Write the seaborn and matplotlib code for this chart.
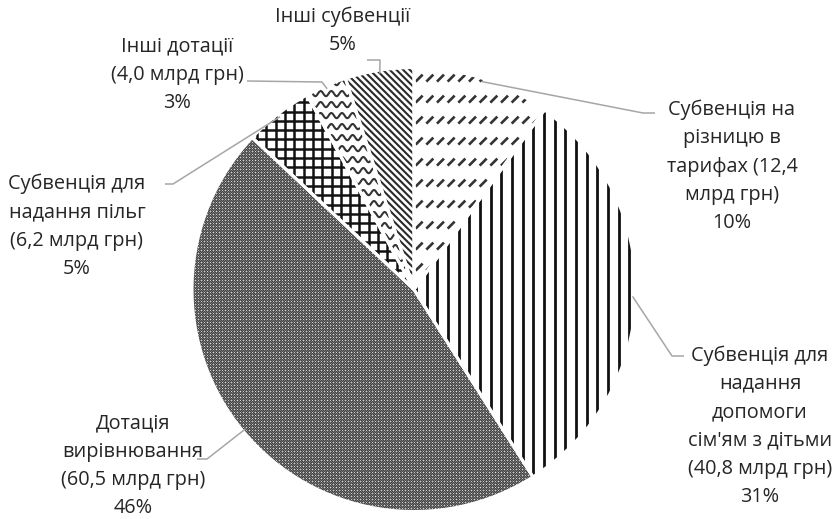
import numpy as np
import matplotlib
matplotlib.use("Agg")
import matplotlib.pyplot as plt
import seaborn as sns
from matplotlib.collections import LineCollection
from matplotlib.patches import Wedge

# ---------------- data ----------------
categories = [
    "Субвенція на\nрізницю в\nтарифах (12,4\nмлрд грн)",
    "Субвенція для\nнадання\nдопомоги\nсім'ям з дітьми\n(40,8 млрд грн)",
    "Дотація\nвирівнювання\n(60,5 млрд грн)",
    "Субвенція для\nнадання пільг\n(6,2 млрд грн)",
    "Інші дотації\n(4,0 млрд грн)",
    "Інші субвенції",
]
shares = [10, 31, 46, 5, 3, 5]

# ---------------- layout (pixels in the 837x519 canvas) ----------------
W_PX, H_PX = 837, 519
CX, CY, R = 414, 289.5, 222
label_pos = [(732, 166.5), (760, 426), (133, 466), (77, 226.5), (177, 75), (343, 31)]
leader_mid = [[(643, 113), (655, 113)],
              [(672, 356), (684, 356)],
              [(207, 459), (197, 459)],
              [(173, 184), (165, 184)],
              [(322, 82), (247, 81)],
              [(380, 60), (367, 60)]]

sns.set_theme(style="white")
plt.rcParams["font.family"] = ["Open Sans", "DejaVu Sans"]

fig = plt.figure(figsize=(W_PX / 100, H_PX / 100), dpi=100)
fig.patch.set_facecolor("white")
ax = fig.add_axes([(CX - R) / W_PX, (H_PX - CY - R) / H_PX, 2 * R / W_PX, 2 * R / H_PX])

wedges, _ = ax.pie(shares, startangle=90, counterclock=False,
                   colors=["white"] * len(shares),
                   wedgeprops=dict(linewidth=0), radius=1, center=(0, 0))
ax.set_xlim(-1, 1)
ax.set_ylim(-1, 1)
ax.set_aspect("equal")
ax.axis("off")

px = 1.0 / R


def P(x, y):
    return ((x - CX) / R, (CY - y) / R)


def add_lines(segs, wedge, color, lw):
    lc = LineCollection(segs, colors=color, linewidths=lw, zorder=2, capstyle="butt")
    ax.add_collection(lc)
    lc.set_clip_path(wedge)


# 0: dashed upward diagonal
segs = []
for y in np.arange(-1.05, 1.05, 21 * px):
    for x in np.arange(-1.05, 1.05, 10.67 * px):
        segs.append([(x, y), (x + 7 * px, y + 7 * px)])
add_lines(segs, wedges[0], "#333333", 1.9)

# 1: vertical lines
segs = [[(x, -1.1), (x, 1.1)] for x in np.arange(-1.0, 1.05, 10.67 * px)]
add_lines(segs, wedges[1], "#111111", 2.0)

# 2: fine checker texture
n = 2 * R
ii, jj = np.mgrid[0:n, 0:n]
val = np.where((ii + jj) % 2 == 0, 0.27, 0.46)
val = np.where((ii % 3 == 0) & (jj % 3 == 0), 0.82, val)
img = np.dstack([val, val, val])
im = ax.imshow(img, extent=(-1, 1, -1, 1), interpolation="nearest", zorder=1.5)
im.set_clip_path(wedges[2])

# 3: grid
step = 9.3 * px
segs = [[(x, -1.1), (x, 1.1)] for x in np.arange(-1.0, 1.05, step)]
segs += [[(-1.1, y), (1.1, y)] for y in np.arange(-1.0, 1.05, step)]
add_lines(segs, wedges[3], "#111111", 1.8)

# 4: wavy lines
xs = np.linspace(-1.05, 1.05, 800)
segs = []
for y0 in np.arange(-1.05, 1.05, 11 * px):
    ys = y0 + 2.6 * px * np.sin(2 * np.pi * xs / (10.67 * px))
    segs.append(np.column_stack([xs, ys]))
add_lines(segs, wedges[4], "#333333", 1.5)

# 5: downward diagonal lines
segs = []
for c in np.arange(-2.5, 2.5, 6.7 * px):
    segs.append([(c - 1.3, 1.3), (c + 1.3, -1.3)])
add_lines(segs, wedges[5], "#2a2a2a", 1.5)

# white separators
for w in wedges:
    ax.add_patch(Wedge((0, 0), 1.0, w.theta1, w.theta2, fill=False,
                       edgecolor="white", linewidth=2.2, zorder=3))

# leader lines and labels
for i, w in enumerate(wedges):
    mid = np.deg2rad((w.theta1 + w.theta2) / 2)
    edge = (0.985 * np.cos(mid), 0.985 * np.sin(mid))
    pts = [edge] + [P(*p) for p in leader_mid[i]]
    xs_, ys_ = zip(*pts)
    ax.plot(xs_, ys_, color="#a6a6a6", lw=1.1, clip_on=False, zorder=4,
            solid_capstyle="butt")
    lx, ly = P(*label_pos[i])
    ax.text(lx, ly, f"{categories[i]}\n{shares[i]}%", ha="center", va="center",
            fontsize=14.3, color="#262626", linespacing=1.55, clip_on=False,
            zorder=5)

fig.savefig("out.png", dpi=100, facecolor="white")
